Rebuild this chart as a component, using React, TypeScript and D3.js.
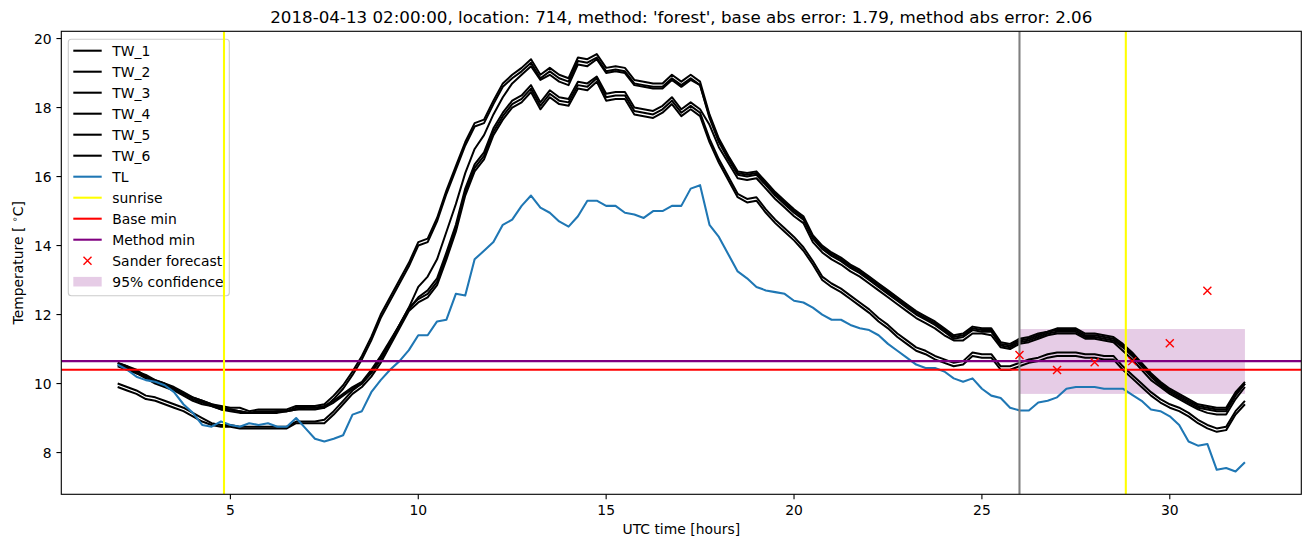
import * as d3 from "d3";
import React from "react";

// time base: every 15 min from 02:00 to 32:00 (next day 08:00)
const hours = d3.range(121).map((i) => 2 + i * 0.25);

const TW_1 = [
  10.6, 10.5, 10.4, 10.2, 10.1, 10.0, 9.85, 9.7,
  9.6, 9.5, 9.4, 9.35, 9.3, 9.3, 9.2, 9.25,
  9.25, 9.25, 9.25, 9.35, 9.35, 9.35, 9.4, 9.65,
  9.95, 10.35, 10.8, 11.35, 12.0, 12.5, 13.0, 13.5,
  14.1, 14.2, 14.8, 15.6, 16.3, 17.0, 17.55, 17.65,
  18.2, 18.7, 18.95, 19.15, 19.4, 18.95, 19.15, 18.95,
  18.85, 19.45, 19.4, 19.55, 19.15, 19.2, 19.15, 18.8,
  18.75, 18.7, 18.7, 18.95, 18.75, 18.95, 18.75, 17.8,
  17.1, 16.6, 16.15, 16.1, 16.15, 15.85, 15.55, 15.3,
  15.05, 14.85, 14.3, 14.0, 13.8, 13.65, 13.45, 13.3,
  13.1, 12.9, 12.7, 12.5, 12.3, 12.1, 11.95, 11.8,
  11.6, 11.4, 11.45, 11.65, 11.6, 11.6, 11.2, 11.15,
  11.3, 11.35, 11.45, 11.5, 11.6, 11.6, 11.6, 11.45,
  11.45, 11.4, 11.35, 11.15, 10.9, 10.6, 10.3, 10.05,
  9.85, 9.7, 9.55, 9.4, 9.35, 9.3, 9.3, 9.75,
  10.05,
];
const TW_2 = [
  10.5, 10.4, 10.3, 10.15, 10.0, 9.9, 9.8, 9.65,
  9.5, 9.4, 9.35, 9.25, 9.25, 9.2, 9.15, 9.15,
  9.15, 9.2, 9.2, 9.25, 9.3, 9.3, 9.3, 9.55,
  9.85, 10.25, 10.7, 11.25, 11.9, 12.4, 12.9, 13.4,
  14.0, 14.1, 14.7, 15.5, 16.2, 16.9, 17.45, 17.55,
  18.1, 18.6, 18.85, 19.05, 19.3, 18.85, 19.05, 18.85,
  18.75, 19.35, 19.3, 19.45, 19.05, 19.1, 19.05, 18.7,
  18.65, 18.6, 18.6, 18.85, 18.65, 18.85, 18.65, 17.75,
  17.05, 16.55, 16.1, 16.05, 16.1, 15.8, 15.5, 15.25,
  15.0, 14.8, 14.25, 13.95, 13.75, 13.6, 13.4, 13.25,
  13.05, 12.85, 12.65, 12.45, 12.25, 12.05, 11.9, 11.75,
  11.55, 11.35, 11.4, 11.6, 11.55, 11.55, 11.15, 11.1,
  11.25, 11.3, 11.4, 11.5, 11.55, 11.55, 11.55, 11.4,
  11.4, 11.35, 11.3, 11.1, 10.85, 10.55, 10.25, 10.0,
  9.8, 9.65, 9.5, 9.35, 9.3, 9.25, 9.25, 9.7,
  10.0,
];
const TW_3 = [
  10.6, 10.5, 10.35, 10.25, 10.1, 10.0, 9.9, 9.75,
  9.6, 9.5, 9.4, 9.3, 9.25, 9.2, 9.15, 9.2,
  9.2, 9.2, 9.2, 9.3, 9.3, 9.3, 9.35, 9.5,
  9.7, 9.9, 10.05, 10.4, 10.8, 11.25, 11.7, 12.2,
  12.8, 13.1, 13.6, 14.4, 15.2, 16.1, 16.8, 17.2,
  17.8, 18.3, 18.7, 18.95, 19.2, 18.8, 18.95, 18.75,
  18.65, 19.25, 19.2, 19.4, 19.0, 19.05, 19.0, 18.65,
  18.6, 18.55, 18.55, 18.8, 18.6, 18.8, 18.65, 17.7,
  17.0, 16.5, 16.05, 16.0, 16.05, 15.75, 15.45, 15.2,
  14.95, 14.75, 14.2, 13.9, 13.7, 13.55, 13.35, 13.2,
  13.0, 12.8, 12.6, 12.4, 12.2, 12.0, 11.85, 11.7,
  11.5, 11.3, 11.35, 11.55, 11.5, 11.5, 11.1, 11.05,
  11.2, 11.25, 11.35, 11.45, 11.5, 11.5, 11.5, 11.35,
  11.35, 11.3, 11.25, 11.05, 10.8, 10.5, 10.2, 9.95,
  9.75, 9.6, 9.45, 9.3, 9.25, 9.2, 9.2, 9.65,
  10.0,
];
const TW_4 = [
  10.55, 10.45, 10.3, 10.2, 10.05, 9.95, 9.85, 9.7,
  9.55, 9.45, 9.35, 9.25, 9.2, 9.15, 9.15, 9.15,
  9.15, 9.15, 9.2, 9.25, 9.25, 9.25, 9.3, 9.45,
  9.65, 9.85, 10.0, 10.35, 10.75, 11.2, 11.7, 12.15,
  12.5, 12.7, 13.05, 13.8, 14.6, 15.65, 16.35, 16.7,
  17.4, 17.85, 18.2, 18.35, 18.65, 18.15, 18.5, 18.3,
  18.25, 18.75, 18.7, 18.9, 18.4, 18.45, 18.45, 18.0,
  17.95, 17.9, 18.05, 18.3, 17.95, 18.15, 17.95, 17.5,
  16.85, 16.4, 15.95, 15.9, 15.95, 15.65, 15.35, 15.1,
  14.85, 14.65, 14.1, 13.8, 13.6, 13.45, 13.25, 13.1,
  12.9, 12.7, 12.5, 12.3, 12.1, 11.9, 11.75, 11.6,
  11.4, 11.25, 11.25, 11.45, 11.45, 11.4, 11.05, 11.0,
  11.15, 11.2, 11.3, 11.4, 11.45, 11.45, 11.45, 11.3,
  11.3, 11.25, 11.2, 10.95, 10.7, 10.4, 10.1, 9.9,
  9.7, 9.55, 9.4, 9.25, 9.15, 9.1, 9.1, 9.55,
  9.9,
];
const TW_5 = [
  10.0, 9.9, 9.8, 9.65, 9.6, 9.5, 9.4, 9.3,
  9.15, 9.0, 8.85, 8.8, 8.8, 8.75, 8.75, 8.75,
  8.75, 8.75, 8.75, 8.9, 8.9, 8.9, 8.95, 9.2,
  9.5, 9.8, 10.0, 10.3, 10.7, 11.2, 11.7, 12.2,
  12.45, 12.6, 12.95, 13.7, 14.5, 15.55, 16.25, 16.6,
  17.3, 17.75, 18.1, 18.25, 18.55, 18.05, 18.4, 18.2,
  18.15, 18.65, 18.6, 18.85, 18.3, 18.35, 18.35, 17.9,
  17.85, 17.8, 17.95, 18.2, 17.85, 18.05, 17.85, 17.1,
  16.5, 16.0, 15.5, 15.35, 15.4, 15.05, 14.75, 14.5,
  14.25, 13.95, 13.55, 13.1, 12.9, 12.75, 12.55, 12.35,
  12.15, 11.9, 11.7, 11.45, 11.25, 11.05, 10.95, 10.8,
  10.7, 10.6, 10.65, 10.9, 10.85, 10.85, 10.5, 10.5,
  10.6, 10.7, 10.75, 10.85, 10.9, 10.9, 10.9, 10.85,
  10.85, 10.8, 10.8, 10.5, 10.25, 10.0, 9.75, 9.55,
  9.4, 9.3, 9.15, 8.95, 8.8, 8.7, 8.75, 9.2,
  9.5,
];
const TW_6 = [
  9.9, 9.8, 9.7, 9.55, 9.5, 9.4, 9.3, 9.2,
  9.05, 8.9, 8.8, 8.75, 8.75, 8.7, 8.7, 8.7,
  8.7, 8.7, 8.7, 8.85, 8.85, 8.85, 8.85, 9.1,
  9.4, 9.7, 9.9, 10.2, 10.6, 11.1, 11.6, 12.1,
  12.35, 12.5, 12.85, 13.6, 14.4, 15.45, 16.15, 16.5,
  17.2, 17.65, 18.0, 18.15, 18.45, 17.95, 18.3, 18.1,
  18.05, 18.55, 18.5, 18.75, 18.2, 18.25, 18.25, 17.8,
  17.75, 17.7, 17.85, 18.1, 17.75, 17.95, 17.75, 17.0,
  16.4, 15.9, 15.4, 15.25, 15.3, 14.95, 14.65, 14.4,
  14.15, 13.85, 13.45, 13.0, 12.8, 12.65, 12.45, 12.25,
  12.05, 11.8, 11.6, 11.35, 11.15, 10.95, 10.85, 10.7,
  10.6, 10.5, 10.55, 10.8, 10.75, 10.75, 10.4, 10.4,
  10.5, 10.6, 10.65, 10.75, 10.8, 10.8, 10.8, 10.75,
  10.75, 10.7, 10.7, 10.4, 10.15, 9.9, 9.65, 9.45,
  9.3, 9.2, 9.05, 8.85, 8.7, 8.6, 8.65, 9.1,
  9.4,
];
const TL = [
  10.55, 10.4, 10.2, 10.1, 10.05, 9.95, 9.75, 9.4,
  9.15, 8.8, 8.75, 8.9, 8.8, 8.75, 8.85, 8.8,
  8.85, 8.75, 8.75, 9.0, 8.7, 8.4, 8.32, 8.4,
  8.5, 9.1, 9.2, 9.75, 10.1, 10.4, 10.65, 10.97,
  11.4, 11.4, 11.8, 11.85, 12.6, 12.55, 13.6, 13.85,
  14.1, 14.6, 14.75, 15.15, 15.45, 15.1, 14.95, 14.7,
  14.55, 14.85, 15.3, 15.3, 15.15, 15.15, 14.95, 14.9,
  14.8, 15.0, 15.0, 15.15, 15.15, 15.65, 15.75, 14.6,
  14.25, 13.75, 13.25, 13.05, 12.8, 12.7, 12.65, 12.6,
  12.4, 12.35, 12.2, 12.0, 11.85, 11.85, 11.7, 11.6,
  11.55, 11.4, 11.15, 10.95, 10.75, 10.55, 10.45, 10.45,
  10.35, 10.15, 10.05, 10.15, 9.85, 9.65, 9.58, 9.3,
  9.22, 9.22, 9.45, 9.5, 9.6, 9.85, 9.9, 9.9,
  9.9, 9.85, 9.85, 9.85, 9.67, 9.5, 9.25, 9.2,
  9.05, 8.8, 8.32, 8.2, 8.25, 7.5, 7.55, 7.45,
  7.72,
];

const twSeries = [
  { name: "TW_1", values: TW_1 },
  { name: "TW_2", values: TW_2 },
  { name: "TW_3", values: TW_3 },
  { name: "TW_4", values: TW_4 },
  { name: "TW_5", values: TW_5 },
  { name: "TW_6", values: TW_6 },
];

const sunrise = [4.83, 28.83];
const forecastTime = 26;
const baseMin = 10.4;
const methodMin = 10.65;
const sanderHours = [26, 27, 28, 29, 30, 31];
const sanderValues = [10.83, 10.39, 10.62, 10.65, 11.17, 12.69];
const confidence = { from: 26, to: 32, low: 9.7, high: 11.58 };

const xTicks = [5, 10, 15, 20, 25, 30];
const yTicks = [8, 10, 12, 14, 16, 18, 20];

const title =
  "2018-04-13 02:00:00, location: 714, method: 'forest', base abs error: 1.79, method abs error: 2.06";

const W = 1311;
const H = 547;
const left = 61.3, right = 1301.3, top = 31.3, bottom = 494.3;
const font = "DejaVu Sans, sans-serif";
const fs = 13.9;

export default function App() {
  const x = d3.scaleLinear().domain([0.5, 33.5]).range([left, right]);
  const y = d3.scaleLinear().domain([6.79, 20.21]).range([bottom, top]);

  const line = (vals: number[]) =>
    d3.line<number>().x((_, i) => x(hours[i])).y((d) => y(d))(vals) || "";

  const legendItems = [
    ...twSeries.map((s) => ({ label: s.name, kind: "line", color: "#000000" })),
    { label: "TL", kind: "line", color: "#1f77b4" },
    { label: "sunrise", kind: "line", color: "#ffff00" },
    { label: "Base min", kind: "line", color: "#ff0000" },
    { label: "Method min", kind: "line", color: "#800080" },
    { label: "Sander forecast", kind: "x", color: "#ff0000" },
    { label: "95% confidence", kind: "patch", color: "#800080" },
  ];

  const cross = (cx: number, cy: number, k: string) => (
    <path
      key={k}
      d={`M${cx - 4},${cy - 4}L${cx + 4},${cy + 4}M${cx - 4},${cy + 4}L${cx + 4},${cy - 4}`}
      stroke="#ff0000"
      strokeWidth={1.4}
      fill="none"
    />
  );

  return (
    <svg
      width={W}
      height={H}
      style={{ position: "absolute", left: 0, top: 0, background: "#fff" }}
      fontFamily={font}
    >
      <defs>
        <clipPath id="plot">
          <rect x={left} y={top} width={right - left} height={bottom - top} />
        </clipPath>
      </defs>

      <g clipPath="url(#plot)">
        <rect
          x={x(confidence.from)}
          y={y(confidence.high)}
          width={x(confidence.to) - x(confidence.from)}
          height={y(confidence.low) - y(confidence.high)}
          fill="#800080"
          fillOpacity={0.2}
        />
        {twSeries.map((s) => (
          <path
            key={s.name}
            d={line(s.values)}
            fill="none"
            stroke="#000"
            strokeWidth={2}
            strokeLinejoin="round"
          />
        ))}
        <path d={line(TL)} fill="none" stroke="#1f77b4" strokeWidth={2.08} strokeLinejoin="round" />
        <line x1={left} x2={right} y1={y(baseMin)} y2={y(baseMin)} stroke="#ff0000" strokeWidth={2.08} />
        <line x1={left} x2={right} y1={y(methodMin)} y2={y(methodMin)} stroke="#800080" strokeWidth={2.08} />
        <line
          x1={x(forecastTime)}
          x2={x(forecastTime)}
          y1={top}
          y2={bottom}
          stroke="#808080"
          strokeWidth={2.08}
        />
        {sanderHours.map((h, i) => cross(x(h), y(sanderValues[i]), "s" + i))}
      </g>

      {/* legend */}
      <g>
        <rect
          x={68.3}
          y={39.3}
          width={161}
          height={256.4}
          rx={3}
          fill="#fff"
          fillOpacity={0.8}
          stroke="#cccccc"
          strokeWidth={1.1}
        />
        {legendItems.map((it, i) => {
          const cy = 50.7 + i * 21;
          return (
            <g key={it.label}>
              {it.kind === "line" && (
                <line x1={73.3} x2={101.7} y1={cy} y2={cy} stroke={it.color} strokeWidth={2.08} />
              )}
              {it.kind === "x" && cross(87.5, cy, "lx")}
              {it.kind === "patch" && (
                <rect x={73.3} y={cy - 4.8} width={28.4} height={9.6} fill={it.color} fillOpacity={0.2} />
              )}
              <text x={112.3} y={cy} dy="0.36em" fontSize={fs} fill="#000">
                {it.label}
              </text>
            </g>
          );
        })}
      </g>

      {/* sunrise lines drawn over the legend */}
      <g clipPath="url(#plot)">
        {sunrise.map((s) => (
          <line key={s} x1={x(s)} x2={x(s)} y1={top} y2={bottom} stroke="#ffff00" strokeWidth={2.08} />
        ))}
      </g>

      {/* frame */}
      <rect
        x={left}
        y={top}
        width={right - left}
        height={bottom - top}
        fill="none"
        stroke="#000"
        strokeWidth={1.11}
      />

      {/* x axis */}
      {xTicks.map((t) => (
        <g key={"x" + t}>
          <line x1={x(t)} x2={x(t)} y1={bottom} y2={bottom + 4.86} stroke="#000" strokeWidth={1.11} />
          <text x={x(t)} y={bottom + 9.7} dy="0.76em" fontSize={fs} textAnchor="middle" fill="#000">
            {t}
          </text>
        </g>
      ))}
      <text x={(left + right) / 2} y={529} dy="0.36em" fontSize={fs} textAnchor="middle" fill="#000">
        UTC time [hours]
      </text>

      {/* y axis */}
      {yTicks.map((t) => (
        <g key={"y" + t}>
          <line x1={left - 4.86} x2={left} y1={y(t)} y2={y(t)} stroke="#000" strokeWidth={1.11} />
          <text x={left - 9.7} y={y(t)} dy="0.36em" fontSize={fs} textAnchor="end" fill="#000">
            {t}
          </text>
        </g>
      ))}
      <text
        transform={`translate(18.3,${(top + bottom) / 2}) rotate(-90)`}
        dy="0.36em"
        fontSize={fs}
        textAnchor="middle"
        fill="#000"
      >
        {"Temperature [ "}
        <tspan fontSize={9.5} dy={-5}>
          {"\u2218"}
        </tspan>
        <tspan dy={5}>C]</tspan>
      </text>

      {/* title */}
      <text x={(left + right) / 2} y={23} fontSize={16.7} textAnchor="middle" fill="#000">
        {title}
      </text>
    </svg>
  );
}
